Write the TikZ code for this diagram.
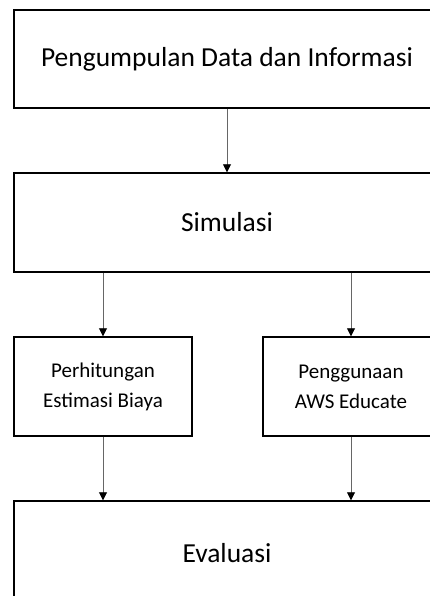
\documentclass[tikz,border=0pt]{standalone}
\usepackage{fontspec}
\setmainfont{Carlito}
\usetikzlibrary{arrows.meta}
\tikzset{
  bigbox/.style={draw=black, line width=1.4pt, fill=white, inner sep=0pt, minimum width=426pt, font=\fontsize{27.5}{33}\selectfont},
  smallbox/.style={draw=black, line width=1.4pt, fill=white, inner sep=0pt, align=center, minimum height=99pt, font=\fontsize{21}{30}\selectfont},
  arr/.style={draw=black!60, line width=0.8pt, -{Triangle[length=8pt,width=8pt,fill=black,color=black]}}
}
\begin{document}
\begin{tikzpicture}
\useasboundingbox (0,0) rectangle (430pt,-596pt);
\clip (0,0) rectangle (430pt,-596pt);
\node[bigbox, minimum height=98pt] (p1) at (227pt,-59pt) {Pengumpulan Data dan Informasi};
\node[bigbox, minimum height=99pt] (sim) at (227pt,-222.5pt) {Simulasi};
\node[smallbox, minimum width=178pt] (est) at (103pt,-386.5pt) {Perhitungan\\Estimasi Biaya};
\node[smallbox, minimum width=176pt] (aws) at (351pt,-386.5pt) {Penggunaan\\AWS Educate};
\node[bigbox, minimum height=104pt] (eval) at (227pt,-553pt) {Evaluasi};
\draw[arr] (p1) -- (sim);
\draw[arr] (sim.south -| est.north) -- (est.north);
\draw[arr] (sim.south -| aws.north) -- (aws.north);
\draw[arr] (est.south) -- (eval.north -| est.south);
\draw[arr] (aws.south) -- (eval.north -| aws.south);
\end{tikzpicture}
\end{document}
